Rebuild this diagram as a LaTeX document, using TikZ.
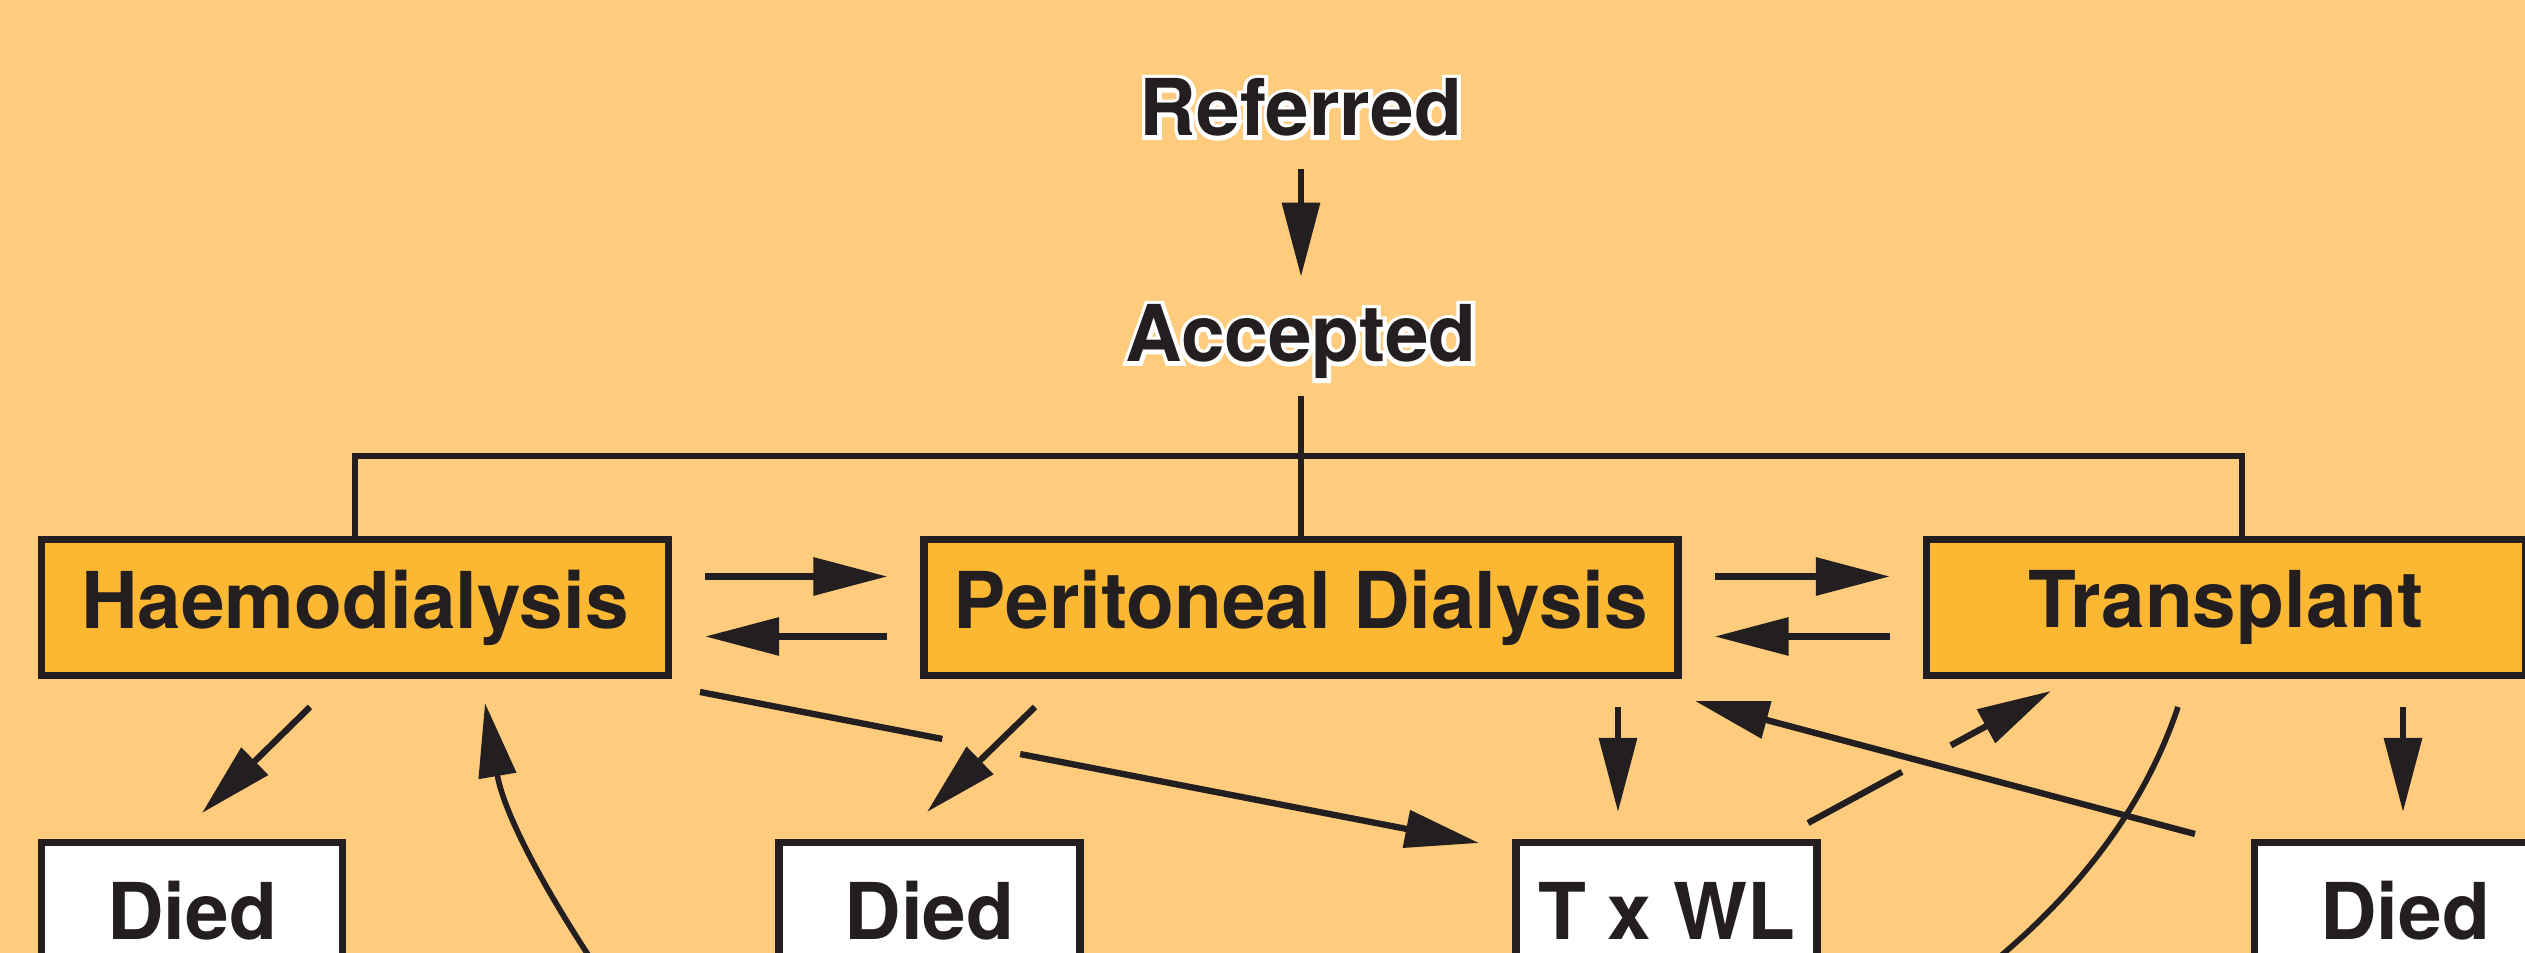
\documentclass[tikz,border=0pt]{standalone}
\usepackage{fontspec}
\setmainfont{TeX Gyre Heros}
\usetikzlibrary{arrows.meta,calc}
\definecolor{bgorange}{HTML}{FECC7C}
\definecolor{boxorange}{HTML}{FDB833}
\definecolor{ink}{HTML}{231F20}
\newcommand{\halo}[1]{\rlap{\addfontfeature{FakeBold=10}\color{white}#1}#1}

\begin{document}
\begin{tikzpicture}[x=0.1mm, y=-0.1mm, color=ink, line width=1.8pt,
	arr/.style={-{Triangle[length=7.4mm,width=3.7mm]}},
	heading/.style={inner sep=0pt, anchor=base, font=\fontsize{22.3}{26}\selectfont\bfseries},
	stage/.style={rectangle, draw=ink, line width=2.1pt, fill=boxorange, minimum height=13.6mm, font=\fontsize{22.3}{26}\selectfont\bfseries},
	outcome/.style={stage, fill=white, minimum width=30.1mm},
	pair/.style={arr, shorten <=3.3mm, shorten >=3.3mm}]
	\path[use as bounding box, fill=bgorange] (0,0) rectangle (2525,953);
	\clip (0,0) rectangle (2525,953);

	% referral and acceptance
	\node (ref) at (1301,136)	[heading]	{\halo{Referred}};
	\node (acc) at (1301,362)	[heading]	{\halo{Accepted}};

	% first treatment
	\node (hd) at ( 355,607.5)	[stage, minimum width=62.7mm]	{Haemodialysis};
	\node (pd) at (1301,607.5)	[stage, minimum width=75.4mm]	{Peritoneal Dialysis};
	\node (tx) at (2226,607.5)	[stage, minimum width=59.9mm]	{Transplant};

	% outcomes
	\node (dl) at ( 192,910.5)	[outcome]	{Died};
	\node (dm) at (929.5,910.5)	[outcome]	{Died};
	\node (wl) at (1666.5,910.5)	[outcome]	{T x WL};
	\node (dr) at (2405,910.5)	[outcome]	{Died};

	\coordinate (bus) at (1301,456);
	\draw[arr, shorten <=2.9mm, shorten >=2.5mm] (ref) -- (acc);
	\draw[shorten <=1.35mm] (acc) -- (pd.north);
	\draw (hd.north) |- (bus) -| ([xshift=1.6mm]tx.north);

	\draw[pair] ([yshift=3.1mm]hd.east) -- ([yshift=3.1mm]pd.west);
	\draw[pair] ([yshift=-2.9mm]pd.west) -- ([yshift=-2.9mm]hd.east);
	\draw[pair] ([yshift=3.1mm]pd.east) -- ([yshift=3.1mm]tx.west);
	\draw[pair] ([yshift=-2.9mm]tx.west) -- ([yshift=-2.9mm]pd.east);

	% free arrow ends
	\coordinate (hdd) at ( 310,707);	\coordinate (dlt) at ( 202,813);
	\coordinate (pdd) at (1035,707);	\coordinate (dmt) at ( 927,812);
	\coordinate (pdw) at (1618,707);	\coordinate (wlt) at (1618,812);
	\coordinate (txd) at (2403,707);	\coordinate (drt) at (2403,812);
	\coordinate (hdw) at ( 700,692);	\coordinate (wlh) at (1479,843);
	\coordinate (wlx) at (1808,823);	\coordinate (txw) at (2051,691);
	\coordinate (drp) at (2195,834);	\coordinate (pdr) at (1695,701);
	\coordinate (txb) at (2178,707);	\coordinate (hdb) at ( 485,703);

	\draw[arr] (hdd) -- (dlt);
	\draw[arr] (pdd) -- (dmt);
	\draw[arr] (pdw) -- (wlt);
	\draw[arr] (txd) -- (drt);
	\draw (hdw) -- ($(hdw)!0.311!(wlh)$);
	\draw[arr] ($(hdw)!0.411!(wlh)$) -- (wlh);
	\draw (wlx) -- ($(wlx)!0.387!(txw)$);
	\draw[arr] ($(wlx)!0.588!(txw)$) -- (txw);
	\draw[arr] (drp) -- (pdr);

	% returns from below
	\draw[line width=1.6pt] (txb) .. controls (2140,820) and (2060,920) .. (1930,1010);
	\draw[arr, line width=1.6pt] (640,1030) .. controls (560,920) and (505,820) .. (hdb);
\end{tikzpicture}
\end{document}
